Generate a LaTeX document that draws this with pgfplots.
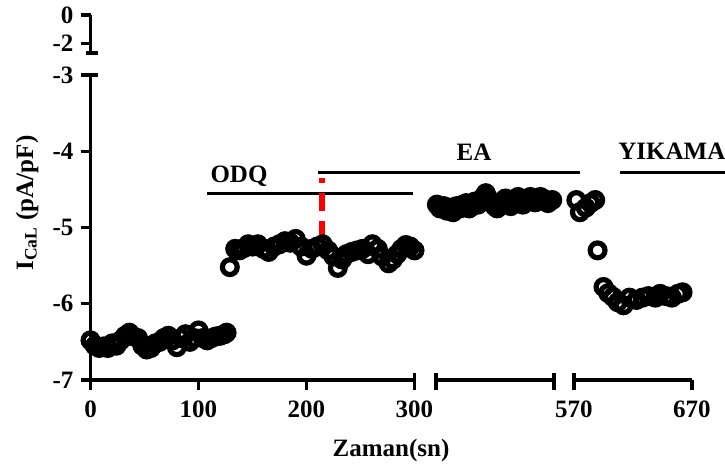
\documentclass[border=0pt]{standalone}
\usepackage{fontspec}
\setmainfont{Liberation Serif}
\usepackage{pgfplots}
\pgfplotsset{compat=1.18}
\newcommand\f{\fontsize{12.5}{15}\selectfont\bfseries}
\tikzset{axl/.style={line width=1.6pt, black}, ann/.style={line width=1.5pt, black}}
\pgfplotsset{
  seg/.style={scale only axis, height=152.5pt, ymin=-7, ymax=-3, clip=false,
    axis line style={line width=1.6pt, -},
    every outer x axis line/.append style={-},
    every outer y axis line/.append style={-},
    tick style={line width=1.6pt, black}, major tick length=5pt, tick align=outside,
    tick label style={font=\f}, xticklabel style={yshift=-2pt}},
  pts/.style={only marks, mark=o, mark size=3.7pt, line width=2.6pt, black, mark options={line width=2.6pt, black}}
}
\begin{document}
\begin{tikzpicture}
\path[use as bounding box] (0pt,0pt) rectangle (362.5pt,235pt);
% segment 1
\begin{axis}[seg, at={(45.25pt,45pt)}, anchor=south west, width=162pt,
  xmin=0, xmax=300, axis x line*=bottom, axis y line*=left,
  xtick={0,100,200,300}, xticklabels={0,100,200,300},
  ytick={-7,-6,-5,-4,-3}, yticklabels={-7,-6,-5,-4,-3}]
\addplot[pts] coordinates {
(0,-6.48) (4,-6.55) (8,-6.58) (12,-6.56) (16,-6.58) (20,-6.52) (24,-6.55) (28,-6.48)
(32,-6.42) (36,-6.38) (40,-6.43) (44,-6.45) (48,-6.55) (52,-6.60) (56,-6.58) (60,-6.52)
(64,-6.50) (68,-6.45) (72,-6.42) (76,-6.48) (80,-6.57) (84,-6.45) (88,-6.40) (92,-6.50)
(96,-6.45) (100,-6.35) (104,-6.45) (108,-6.48) (112,-6.45) (116,-6.43) (120,-6.42) (124,-6.40) (126,-6.38)
(129,-5.52) (134,-5.28) (138,-5.30) (142,-5.27) (146,-5.22) (150,-5.25) (155,-5.22) (160,-5.28)
(165,-5.32) (170,-5.25) (175,-5.22) (180,-5.18) (185,-5.20) (190,-5.15) (195,-5.25) (200,-5.37)
(205,-5.28) (210,-5.25) (215,-5.22) (220,-5.30) (225,-5.38) (229,-5.53) (233,-5.42) (237,-5.35)
(242,-5.32) (247,-5.30) (252,-5.28) (257,-5.35) (261,-5.22) (266,-5.28) (270,-5.38) (276,-5.47)
(280,-5.42) (284,-5.35) (288,-5.28) (292,-5.23) (296,-5.25) (300,-5.30)
};
\draw[axl] (axis cs:300,-7) -- ++(0pt,3.5pt);
\draw[axl] (axis cs:0,-3) -- ++(3.5pt,0pt);
\draw[ann] (axis cs:108,-4.56) -- (axis cs:299,-4.56);
\draw[ann] (axis cs:210.6,-4.285) -- (axis cs:453,-4.285);
\draw[red, line width=3pt, dash pattern=on 9pt off 5pt] (axis cs:214.4,-5.151) -- (axis cs:214.4,-4.351);
\end{axis}
% segment 2
\begin{axis}[seg, at={(218pt,45pt)}, anchor=south west, width=59pt,
  xmin=300, xmax=570, axis x line*=bottom, axis y line=none,
  xtick={300,570}, xticklabels={,}]
\addplot[pts] coordinates {
(302,-4.70) (309,-4.75) (318,-4.72) (325,-4.78) (332,-4.74) (339,-4.80) (347,-4.72) (355,-4.75)
(362,-4.70) (369,-4.68) (376,-4.75) (382,-4.72) (389,-4.66) (396,-4.70) (402,-4.64) (408,-4.60)
(414,-4.55) (420,-4.62) (428,-4.68) (434,-4.72) (440,-4.75) (447,-4.70) (453,-4.65) (459,-4.62)
(465,-4.68) (471,-4.72) (476,-4.66) (482,-4.62) (488,-4.60) (494,-4.65) (499,-4.70) (505,-4.66)
(510,-4.62) (516,-4.60) (522,-4.63) (527,-4.67) (533,-4.63) (539,-4.60) (545,-4.62) (551,-4.66)
(556,-4.68) (562,-4.65) (566,-4.64)
};
\draw[axl] (axis cs:300,-7) -- ++(0pt,3.5pt);
\draw[axl] (axis cs:570,-7) -- ++(0pt,3.5pt);
\end{axis}
% segment 3
\begin{axis}[seg, at={(287pt,45pt)}, anchor=south west, width=59pt,
  xmin=570, xmax=670, axis x line*=bottom, axis y line=none,
  xtick={570,670}, xticklabels={570,670}]
\addplot[pts] coordinates {
(572,-4.64) (575,-4.80) (580,-4.74) (584,-4.68) (588,-4.64) (590,-5.30) (595,-5.78)
(599,-5.86) (603,-5.91) (607,-5.98) (612,-6.02) (617,-5.92) (623,-5.95) (628,-5.92)
(633,-5.90) (639,-5.92) (643,-5.87) (648,-5.90) (653,-5.92) (658,-5.87) (662,-5.85)
};
\draw[axl] (axis cs:570,-7) -- ++(0pt,3.5pt);
\draw[ann] (axis cs:609,-4.285) -- (axis cs:698,-4.285);
\end{axis}
% top y segment
\begin{axis}[seg, at={(45.25pt,208.5pt)}, anchor=south west, width=5pt, height=19pt,
  xmin=0, xmax=1, ymin=-2.7, ymax=0, axis y line*=left, axis x line=none,
  ytick={-2,0}, yticklabels={-2,0}]
\draw[axl] (axis cs:0,-2.7) ++(-2.5pt,0pt) -- ++(6pt,0pt);
\end{axis}
\node[font=\f, anchor=base] at (119.5pt,143.5pt) {ODQ};
\node[font=\f, anchor=base] at (237pt,154.5pt) {EA};
\node[font=\f, anchor=base west, inner sep=0pt] at (309pt,155pt) {YIKAMA};
\node[font=\f, anchor=base] at (195.5pt,6.5pt) {Zaman(sn)};
\node[font=\f, rotate=90, anchor=center] at (13.5pt,133.5pt) {I\textsubscript{CaL} (pA/pF)};
\end{tikzpicture}
\end{document}
